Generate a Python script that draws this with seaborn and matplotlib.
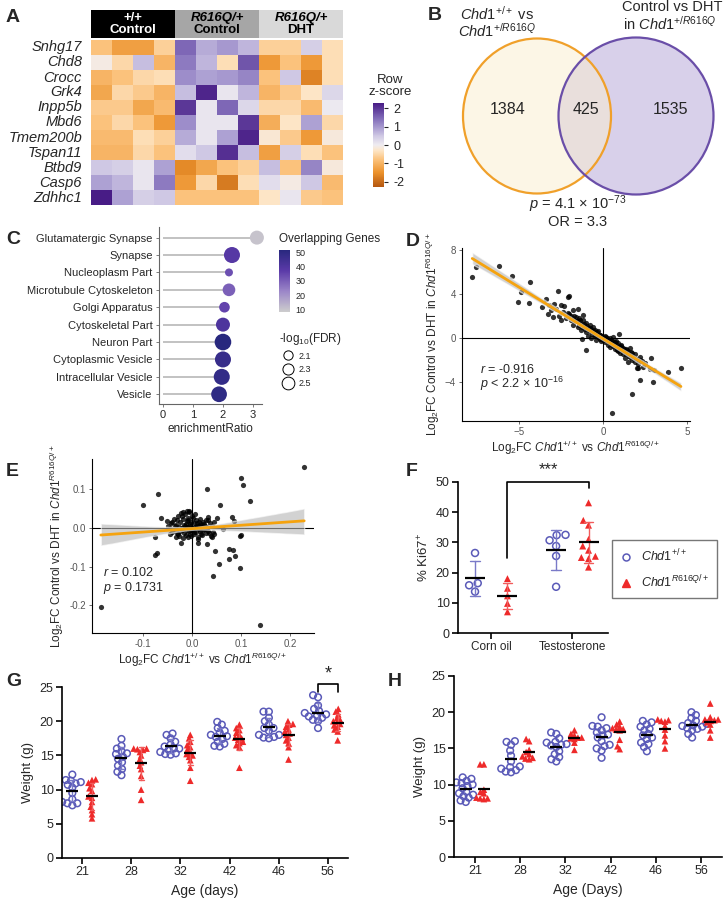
import numpy as np
import pandas as pd
import matplotlib
matplotlib.use('Agg')
import matplotlib.pyplot as plt
import seaborn as sns
from matplotlib.colors import LinearSegmentedColormap, Normalize
from matplotlib.patches import Ellipse, Rectangle
from matplotlib.lines import Line2D
from matplotlib.cm import ScalarMappable
from matplotlib.collections import PolyCollection
from matplotlib.ticker import FormatStrFormatter

sns.set_style('ticks')
plt.rcParams['font.family'] = ['Liberation Sans', 'DejaVu Sans']
plt.rcParams['mathtext.fontset'] = 'custom'
plt.rcParams['mathtext.rm'] = 'Liberation Sans'
plt.rcParams['mathtext.it'] = 'Liberation Sans:italic'
plt.rcParams['mathtext.bf'] = 'Liberation Sans:bold'

# ---------------- data ----------------
genes = ['Snhg17', 'Chd8', 'Crocc', 'Grk4', 'Inpp5b', 'Mbd6', 'Tmem200b',
         'Tspan11', 'Btbd9', 'Casp6', 'Zdhhc1']
heat_vals = [
    [-0.8, -1.3, -1.3, -0.6, 1.5, 0.8, 1.0, 0.7, -0.6, -0.6, 0.4, -0.4],
    [-0.1, -0.5, 0.6, -1.0, 1.3, 0.7, -0.4, 1.7, -1.4, -0.8, -1.4, -0.4],
    [-1.0, -0.8, -0.5, -0.4, 1.1, 0.9, 1.0, 1.2, -0.8, 0.5, -1.7, -0.4],
    [-1.2, -0.5, -0.7, -1.0, 0.6, 2.2, 0.1, 0.7, -1.0, -0.7, -0.3, 0.3],
    [-0.7, -0.7, -1.2, -0.9, 2.0, 0.1, 1.5, 0.3, -0.5, -0.5, -0.9, 0.05],
    [-0.8, -0.5, -0.8, -1.4, 1.1, 0.1, 0.1, 2.0, -1.1, -0.3, 0.9, -0.5],
    [-0.9, -0.9, -0.4, -0.6, 0.8, 0.1, 0.9, 2.2, -0.2, -0.7, -1.4, -0.15],
    [-1.0, -1.0, -0.5, -0.8, 0.2, 0.5, 2.1, 0.6, -1.3, 0.4, -0.4, -0.8],
    [0.5, 0.4, 0.1, 0.9, -1.6, -1.2, -0.8, -0.6, 0.6, -0.8, 1.2, -0.15],
    [0.9, 0.7, 0.1, 1.3, -1.4, -0.5, -1.8, -0.4, 0.2, -0.1, 0.5, -0.9],
    [2.3, 0.9, 0.4, 0.5, -0.8, -0.8, -0.8, -0.8, -0.3, 0.1, -0.7, -0.8],
]
venn_counts = [1384, 425, 1535]

terms = ['Glutamatergic Synapse', 'Synapse', 'Nucleoplasm Part',
         'Microtubule Cytoskeleton', 'Golgi Apparatus', 'Cytoskeletal Part',
         'Neuron Part', 'Cytoplasmic Vesicle', 'Intracellular Vesicle', 'Vesicle']
enrich_ratio = [3.13, 2.3, 2.2, 2.2, 2.05, 2.0, 2.0, 2.0, 1.96, 1.87]
overlap_genes = [12, 38, 33, 30, 35, 40, 50, 46, 47, 48]
neglog_fdr = [2.68, 3.0, 1.98, 2.49, 2.24, 2.68, 3.1, 3.0, 3.0, 2.95]

d_x = [-7.78, -7.56, -6.17, -5.44, -4.9, -5.04, -4.42, -4.33, -1.23, -1.03, 0.97, 0.81,
       2.84, 2.2, 1.75, 0.54, 2.95, 3.9, 4.64, 3.04, 2.08, 2.8,
       -3.6, -3.4, -3.3, -3.2, -3.1, -3.0, -2.9, -2.8, -2.7, -2.6, -2.5, -2.5, -2.4, -2.3,
       -2.2, -2.1, -2.0, -2.0, -1.9, -1.8, -1.8, -1.7, -1.6, -1.5, -1.5, -1.4, -1.3, -1.3,
       -1.2, -1.2, -1.1, -1.0, -1.0, -0.9, -0.9, -0.8, -0.8, -0.7, -0.7, -0.6, -0.6, -0.5,
       -0.5, -0.4, -0.4, -0.3, -0.3, -0.2, -0.2, -0.1, -0.1, 0.0, 0.0, 0.1, 0.1, 0.2, 0.2,
       0.3, 0.3, 0.4, 0.4, 0.5, 0.5, 0.6, 0.6, 0.7, 0.7, 0.8, 0.8, 0.9, 0.9, 1.0, 1.0, 1.1,
       1.1, 1.2, 1.2, 1.3, 1.3, 1.4, 1.4, 1.5, 1.5, 1.6, 1.6, 1.7, 1.7, 1.8, 1.9, 1.9, 2.0,
       2.1, 2.2, 2.3, 2.4, 2.0,
       -1.5, -1.4, -1.35, -1.25, -1.15, -1.05, -0.95, -0.85, -0.75, -0.65, -0.55, -0.45,
       -0.35, -0.25, -0.15, -0.05, 0.05, 0.15, 0.25, 0.35, 0.45, 0.55, 0.65, 0.75, 0.85,
       0.95, 1.05, 1.15, 1.25, 1.35, 1.45, 1.55, 1.65, 1.75, -1.6, -1.7, -1.9, -2.1, 2.2, 2.5]
d_y = [5.57, 6.43, 6.55, 5.64, 4.21, 3.24, 3.15, 5.06, -0.12, -1.09, 0.36, -1.1,
       -1.79, -3.8, -5.1, -6.85, -3.97, -3.1, -2.76, -2.9, -2.7, -2.8,
       2.8, 3.5, 2.2, 3.0, 2.5, 1.9, 3.1, 2.6, 4.3, 2.0, 3.0, 1.6, 2.4, 2.9,
       1.8, 3.7, 3.8, 2.2, 1.6, 2.5, 1.2, 2.0, 1.5, 2.6, 1.0, 1.8, 1.3, 0.7,
       1.6, 2.1, 1.0, 0.5, 1.4, 0.9, 0.2, 1.2, 0.6, 0.8, 0.0, 0.5, 1.0, 0.2,
       0.7, 0.4, -0.2, 0.6, 0.1, 0.3, -0.1, 0.2, -0.3, 0.1, -0.2, 0.2, -0.4, -0.1, 0.1,
       -0.3, -0.6, 0.0, -0.8, -0.2, -0.5, 0.1, -0.7, -0.4, -1.0, -0.3, -0.8, -1.2, -0.5, -0.8, -1.4, -0.6,
       -1.1, -1.5, -0.9, -1.2, -1.8, -1.0, -1.5, -2.2, -1.3, -1.7, -0.9, -2.0, -1.4, -1.8, -2.2, -1.5, -1.9,
       -2.4, -1.7, -2.1, -2.6, -2.7,
       1.5, 1.2, 1.6, 1.0, 1.3, 0.8, 1.1, 0.7, 0.9, 0.4, 0.6, 0.3,
       0.5, 0.1, 0.3, -0.1, 0.0, -0.2, 0.0, -0.4, -0.3, -0.6, -0.4, -0.8, -0.6,
       -1.0, -0.7, -1.2, -1.0, -1.4, -1.1, -1.6, -1.3, -1.7, 1.9, 1.6, 2.0, 2.3, -2.0, -2.3]

e_x = [0.229, 0.1, 0.104, 0.118, 0.03, 0.057, -0.07, -0.099, -0.063, -0.075, -0.072, -0.075,
       -0.186, 0.139, -0.023, 0.042, 0.056, 0.048, 0.076, 0.084, 0.076, 0.088, 0.099, 0.099,
       0.101, 0.081, 0.085, 0.063, 0.032, 0.032, 0.052, 0.013, 0.03, 0.041, 0.044, -0.011,
       -0.006, -0.018, -0.03, -0.04, -0.05, -0.033, -0.019, -0.008,
       -0.02, -0.015, -0.01, -0.005, 0.0, 0.005, 0.01, 0.015, 0.02, -0.025, -0.01, 0.008,
       0.018, -0.005, 0.025, -0.035, 0.03, -0.045, 0.0, -0.02, 0.012, -0.028, 0.005, -0.012,
       0.022, -0.002, 0.015, -0.008, 0.035, -0.04,
       -0.042, -0.038, -0.036, -0.033, -0.031, -0.029, -0.027, -0.026, -0.024, -0.022, -0.021,
       -0.019, -0.017, -0.016, -0.014, -0.013, -0.011, -0.009, -0.007, -0.006, -0.004, -0.003,
       -0.001, 0.001, 0.002, 0.004, 0.006, 0.007, 0.009, 0.011, 0.013, 0.014, 0.016, 0.017,
       0.019, 0.021, 0.023, 0.024, 0.026, 0.028, 0.029, 0.031, 0.033, 0.036, 0.038, 0.04,
       0.043, 0.045, -0.048, -0.044]
e_y = [0.157, 0.128, 0.111, 0.07, 0.1, 0.059, 0.087, 0.059, 0.027, -0.022, -0.065, -0.07,
       -0.204, -0.251, -0.04, -0.124, -0.093, -0.06, -0.053, -0.056, -0.081, -0.072, -0.103, -0.02,
       -0.017, 0.029, 0.018, -0.003, 0.029, 0.02, 0.025, -0.04, -0.042, -0.022, -0.015, 0.044,
       0.04, 0.042, 0.02, 0.015, 0.018, -0.022, -0.025, -0.022,
       0.0, 0.005, -0.005, 0.01, 0.0, -0.01, 0.005, -0.003, 0.008, -0.008, 0.018, 0.02,
       -0.015, -0.015, 0.01, 0.005, 0.0, 0.0, 0.03, 0.03, -0.028, -0.015, 0.012, 0.01,
       -0.006, -0.004, 0.015, 0.026, -0.012, -0.01,
       0.012, -0.005, 0.022, 0.008, -0.012, 0.03, 0.002, -0.02, 0.015, 0.038, -0.006,
       0.024, -0.012, 0.008, 0.035, -0.018, 0.003, 0.02, -0.008, 0.045, 0.006, -0.02,
       0.015, -0.006, 0.025, -0.015, 0.002, 0.035, -0.01, 0.012, -0.022, 0.004, 0.022, -0.007,
       0.01, -0.018, 0.016, -0.002, 0.006, -0.012, 0.02, 0.003, -0.008, 0.012, -0.02, 0.005,
       -0.01, 0.015, 0.004, -0.015]

treatments = ['Corn oil', 'Testosterone']
genotypes = ['WT', 'Mut']
f_wt = {'Corn oil': [26.5, 16.5, 15.8, 13.7],
        'Testosterone': [32.5, 32.4, 30.7, 28.8, 25.5, 15.3]}
f_mut = {'Corn oil': [18.0, 14.8, 12.3, 9.8, 7.0],
         'Testosterone': [43.1, 37.3, 35.7, 31.0, 28.8, 27.4, 25.4, 25.0, 24.6, 21.8]}

days = ['21', '28', '32', '42', '46', '56']
g_wt = {'21': [12.2, 11.4, 11.3, 11.1, 10.9, 10.7, 10.3, 9.5, 8.2, 8.0, 8.0, 7.7, 8.6],
        '28': [17.4, 16.4, 16.0, 15.6, 15.2, 14.8, 14.5, 14.0, 13.5, 13.0, 12.6, 12.1, 15.3],
        '32': [18.2, 18.0, 17.5, 17.0, 16.6, 16.3, 16.0, 15.8, 15.5, 15.3, 15.1, 15.2, 16.0],
        '42': [19.9, 19.5, 19.0, 18.6, 18.3, 18.0, 17.7, 17.4, 17.0, 16.7, 16.4, 16.3, 17.8],
        '46': [21.4, 21.4, 20.5, 20.0, 19.5, 19.0, 18.6, 18.0, 17.7, 17.5, 17.6, 18.0, 19.0],
        '56': [23.8, 23.5, 22.3, 21.8, 21.5, 21.0, 20.8, 20.5, 20.2, 20.0, 19.0, 21.2, 20.7]}
g_mut = {'21': [11.5, 11.4, 10.8, 10.2, 9.8, 9.0, 8.8, 8.2, 7.5, 7.0, 6.4, 5.8, 11.0],
         '28': [16.0, 16.0, 15.8, 15.5, 15.0, 14.5, 14.0, 13.5, 13.0, 12.0, 10.0, 8.5, 15.9],
         '32': [18.0, 17.5, 17.0, 16.2, 15.8, 15.5, 15.2, 15.0, 14.8, 14.3, 13.2, 11.3, 16.5],
         '42': [19.5, 19.0, 18.7, 18.3, 18.0, 17.6, 17.3, 17.0, 16.8, 16.5, 16.2, 13.2, 17.5],
         '46': [20.0, 19.5, 19.2, 18.8, 18.5, 18.2, 18.0, 17.6, 17.2, 16.8, 16.2, 14.4, 19.6],
         '56': [21.8, 21.4, 21.0, 20.5, 20.2, 19.9, 19.6, 19.2, 18.8, 18.5, 17.2, 20.0, 19.4]}
h_wt = {'21': [11.0, 10.8, 10.5, 10.3, 10.0, 9.8, 9.5, 9.0, 8.6, 8.4, 8.2, 7.8, 7.6, 10.2, 8.8],
        '28': [16.0, 15.9, 15.5, 14.7, 14.0, 13.2, 12.5, 12.2, 12.0, 11.8, 11.7, 12.4],
        '32': [17.2, 17.0, 16.4, 15.8, 15.6, 15.5, 15.4, 15.2, 14.6, 14.2, 13.8, 13.5, 13.2, 15.9],
        '42': [19.3, 18.1, 17.8, 17.5, 17.2, 16.9, 16.5, 16.0, 15.5, 15.3, 15.0, 14.7, 13.7, 18.0, 16.8],
        '46': [18.8, 18.6, 18.3, 18.0, 17.5, 17.0, 16.8, 16.3, 15.8, 15.6, 15.2, 14.6, 17.7, 16.5],
        '56': [20.0, 19.6, 19.2, 18.8, 18.4, 18.2, 18.0, 17.8, 17.7, 17.5, 17.0, 16.5, 18.5, 18.1]}
h_mut = {'21': [12.8, 12.8, 9.3, 9.0, 8.8, 8.2, 8.1, 8.1, 8.0],
         '28': [16.3, 16.0, 14.8, 14.5, 14.2, 13.9, 13.7, 13.6, 13.5],
         '32': [17.5, 17.0, 16.8, 16.5, 16.5, 16.4, 16.3, 15.8, 14.8],
         '42': [18.7, 18.0, 17.8, 17.7, 17.6, 17.5, 16.2, 15.3, 14.9, 18.3],
         '46': [19.0, 18.9, 18.8, 18.7, 18.1, 17.6, 16.8, 16.0, 15.0],
         '56': [21.2, 19.3, 19.0, 18.9, 18.8, 18.6, 18.3, 17.5, 16.5, 19.0]}

# ---------------- figure ----------------
W, H = 723, 900
fig = plt.figure(figsize=(7.23, 9.0), dpi=100)


def ax_px(x0, y0, x1, y1):
    return fig.add_axes([x0 / W, 1 - y1 / H, (x1 - x0) / W, (y1 - y0) / H])


ov = ax_px(0, 0, W, H)
ov.set_xlim(0, W)
ov.set_ylim(H, 0)
ov.axis('off')

for lab, (lx, ly) in {'A': (6, 17), 'B': (428, 16), 'C': (6, 240), 'D': (406, 242),
                      'E': (6, 472), 'F': (406, 472), 'G': (6, 682), 'H': (388, 682)}.items():
    ov.text(lx, ly, lab, fontsize=14, fontweight='bold', va='center', ha='left')

# ---------------- A: heatmap ----------------
nodes = [(-2.3, '#b45710'), (-1.5, '#ec922c'), (-0.8, '#fbc27c'), (-0.3, '#fde5c6'),
         (0.0, '#efecf1'), (0.5, '#cfc8e4'), (1.0, '#a698cf'), (1.5, '#7e68b6'), (2.3, '#481c86')]
cmapA = LinearSegmentedColormap.from_list('rz', [((v + 2.3) / 4.6, c) for v, c in nodes])
dfA = pd.DataFrame(heat_vals, index=genes)
axA = ax_px(91, 40, 343, 205)
caxA = ax_px(373, 103, 384, 187)
sns.heatmap(dfA, ax=axA, cmap=cmapA, vmin=-2.3, vmax=2.3, cbar_ax=caxA,
            xticklabels=False, yticklabels=True, cbar_kws={'ticks': [-2, -1, 0, 1, 2]})
axA.tick_params(left=False, labelsize=10.5, pad=3)
axA.set_ylabel('')
for t in axA.get_yticklabels():
    t.set_style('italic')
    t.set_rotation(0)
caxA.tick_params(labelsize=9, length=3, width=0.8)
caxA.set_yticklabels(['-2', '-1', '0', '1', '2'])
for sp in caxA.spines.values():
    sp.set_visible(False)
ov.text(390, 86, 'Row\nz-score', ha='center', va='center', fontsize=9.5, linespacing=1.1)

axHd = ax_px(91, 10, 343, 38)
axHd.set_xlim(0, 12)
axHd.set_ylim(0, 1)
axHd.axis('off')
for i, (fc, tc, l1, l2, it) in enumerate([('black', 'white', '+/+', 'Control', 'normal'),
                                          ('#a6a6a6', 'black', 'R616Q/+', 'Control', 'italic'),
                                          ('#d9d9d9', 'black', 'R616Q/+', 'DHT', 'italic')]):
    axHd.add_patch(Rectangle((4 * i, 0), 4, 1, facecolor=fc, edgecolor='none'))
    axHd.text(4 * i + 2, 0.72, l1, color=tc, ha='center', va='center', fontsize=9.5,
              fontweight='bold', style=it)
    axHd.text(4 * i + 2, 0.28, l2, color=tc, ha='center', va='center', fontsize=9.5,
              fontweight='bold')

# ---------------- B: Venn ----------------
ov.add_patch(Ellipse((636, 116), 155, 157, facecolor='#d8d0ea', edgecolor='none', zorder=1))
ov.add_patch(Ellipse((537, 116), 148, 155, facecolor='#fbefcf', alpha=0.5, edgecolor='none', zorder=2))
ov.add_patch(Ellipse((537, 116), 148, 155, facecolor='none', edgecolor='#f0a02a', lw=1.6, zorder=3))
ov.add_patch(Ellipse((636, 116), 155, 157, facecolor='none', edgecolor='#6a4ea8', lw=1.6, zorder=3))
for xx, n in zip([508, 586, 670], venn_counts):
    ov.text(xx, 110, str(n), ha='center', va='center', fontsize=11.5, zorder=4)
ov.text(497, 14, r'$\mathit{Chd1}^{\mathit{+/+}}$ vs', ha='center', va='center', fontsize=10.5)
ov.text(497, 31, r'$\mathit{Chd1}^{\mathit{+/R616Q}}$', ha='center', va='center', fontsize=10.5)
ov.text(672, 7, 'Control vs DHT', ha='center', va='center', fontsize=10.5)
ov.text(670, 24, r'in $\mathit{Chd1}^{\mathit{+/R616Q}}$', ha='center', va='center', fontsize=10.5)
ov.text(578, 204, r'$\mathit{p}$ = 4.1 × 10$^{-73}$', ha='center', va='center', fontsize=10.5)
ov.text(578, 222, 'OR = 3.3', ha='center', va='center', fontsize=10.5)

# ---------------- C: lollipop ----------------
cmapC = LinearSegmentedColormap.from_list('og', ['#cdcdcd', '#9b86c8', '#5b3aa8', '#28287e'])
dfC = pd.DataFrame({'term': terms, 'ratio': enrich_ratio, 'genes': overlap_genes,
                    'fdr': neglog_fdr})
axC = ax_px(159, 227, 262, 404)
sizes_rng = (33, 143)
size_norm = (1.98, 3.1)
axC.hlines(range(len(terms)), 0, dfC['ratio'], color='#bdbdbd', lw=1.3, zorder=1)
sns.scatterplot(data=dfC, x='ratio', y=np.arange(len(terms)), hue='genes', palette=cmapC,
                hue_norm=(10, 50), size='fdr', sizes=sizes_rng, size_norm=size_norm,
                legend=False, edgecolor='none', ax=axC, zorder=3, clip_on=False)
axC.set_yticks(range(len(terms)))
axC.set_yticklabels(terms)
axC.set_ylim(9.56, -0.61)
axC.set_xlim(-0.13, 3.3)
axC.set_xticks([0, 1, 2, 3])
axC.tick_params(labelsize=8, length=2.5, width=0.6, color='#666', pad=2)
axC.set_xlabel('enrichmentRatio', fontsize=8.5, labelpad=2)
axC.set_ylabel('')
for s in ['top', 'right']:
    axC.spines[s].set_visible(False)
for s in ['left', 'bottom']:
    axC.spines[s].set_color('#666')
    axC.spines[s].set_linewidth(0.8)

caxC = ax_px(279, 250, 290, 312)
cbC = fig.colorbar(ScalarMappable(norm=Normalize(8.5, 51.5), cmap=cmapC), cax=caxC,
                   ticks=[10, 20, 30, 40, 50])
cbC.outline.set_visible(False)
caxC.tick_params(labelsize=6.5, length=2, color='white', pad=2)
ov.text(279, 239, 'Overlapping Genes', fontsize=8.5, va='center')
ov.text(279, 339, r'-log$_{10}$(FDR)', fontsize=8.5, va='center')


def fdr_size(v):
    return sizes_rng[0] + (v - size_norm[0]) / (size_norm[1] - size_norm[0]) * (sizes_rng[1] - sizes_rng[0])


size_handles = [Line2D([], [], ls='', marker='o', markerfacecolor='white', markeredgecolor='black',
                       markeredgewidth=0.7, markersize=np.sqrt(fdr_size(v))) for v in [2.1, 2.3, 2.5]]
fig.legend(size_handles, ['2.1', '2.3', '2.5'], loc='upper left',
           bbox_to_anchor=(278 / W, 1 - 347 / H), frameon=False, fontsize=6.5,
           handletextpad=0.6, labelspacing=0.55, borderpad=0, handlelength=1.2)


# ---------------- D / E: scatter + regression ----------------
def style_gg(ax):
    for s in ['top', 'right']:
        ax.spines[s].set_visible(False)
    for s in ['left', 'bottom']:
        ax.spines[s].set_color('black')
        ax.spines[s].set_linewidth(0.8)
    ax.tick_params(labelsize=7, labelcolor='#555', color='#555', length=2.5, width=0.6, pad=2)
    for c in ax.collections:
        if isinstance(c, PolyCollection):
            c.set_facecolor('#b5b5b5')
            c.set_alpha(0.6)


axD = ax_px(462, 248, 690, 421)
axD.axhline(0, color='black', lw=0.8, zorder=0)
axD.axvline(0, color='black', lw=0.8, zorder=0)
sns.regplot(x=d_x, y=d_y, ax=axD, scatter_kws=dict(s=14, color='black', linewidths=0),
            line_kws=dict(color='#f5a30f', lw=2), seed=3)
axD.set_xlim(-8.39, 5.18)
axD.set_ylim(-7.55, 8.18)
axD.set_xticks([-5, 0, 5])
axD.set_yticks([-4, 0, 4, 8])
style_gg(axD)
axD.set_xlabel(r'Log$_2$FC $\mathit{Chd1}^{\mathit{+/+}}$ vs $\mathit{Chd1}^{\mathit{R616Q/+}}$',
               fontsize=8.5, labelpad=1)
axD.set_ylabel(r'Log$_2$FC Control vs DHT in $\mathit{Chd1}^{\mathit{R616Q/+}}$', fontsize=8.5,
               labelpad=2)
axD.text(0.08, 0.3, r'$\mathit{r}$ = -0.916', transform=axD.transAxes, fontsize=9, va='center')
axD.text(0.08, 0.215, r'$\mathit{p}$ < 2.2 × 10$^{-16}$', transform=axD.transAxes, fontsize=9,
         va='center')

axE = ax_px(92, 459, 314, 633)
axE.axhline(0, color='black', lw=0.8, zorder=0)
axE.axvline(0, color='black', lw=0.8, zorder=0)
sns.regplot(x=e_x, y=e_y, ax=axE, scatter_kws=dict(s=14, color='black', linewidths=0),
            line_kws=dict(color='#f5a30f', lw=2), seed=3, ci=55)
axE.set_xlim(-0.204, 0.249)
axE.set_ylim(-0.271, 0.178)
axE.set_xticks([-0.1, 0.0, 0.1, 0.2])
axE.set_yticks([-0.2, -0.1, 0.0, 0.1])
axE.xaxis.set_major_formatter(FormatStrFormatter('%.1f'))
axE.yaxis.set_major_formatter(FormatStrFormatter('%.1f'))
style_gg(axE)
axE.set_xlabel(r'Log$_2$FC $\mathit{Chd1}^{\mathit{+/+}}$ vs $\mathit{Chd1}^{\mathit{R616Q/+}}$',
               fontsize=8.5, labelpad=1)
axE.set_ylabel(r'Log$_2$FC Control vs DHT in $\mathit{Chd1}^{\mathit{R616Q/+}}$', fontsize=8.5,
               labelpad=2)
axE.text(0.05, 0.345, r'$\mathit{r}$ = 0.102', transform=axE.transAxes, fontsize=9, va='center')
axE.text(0.05, 0.26, r'$\mathit{p}$ = 0.1731', transform=axE.transAxes, fontsize=9, va='center')

# ---------------- F, G, H: dot plots ----------------
BLUE = '#5a5ab8'
BLUE_ERR = '#7a7ac8'
RED = '#ee2a2a'
RED_ERR = '#f25c5c'


def long_df(wt, mut, cats):
    rows = []
    for c in cats:
        rows += [(c, 'WT', v) for v in wt[c]]
        rows += [(c, 'Mut', v) for v in mut[c]]
    return pd.DataFrame(rows, columns=['cat', 'geno', 'val'])


def dotplot(ax, df, cats, msize, mean_w, errbars=True, capsize=0.1):
    n0 = len(ax.collections)
    sns.swarmplot(data=df[df.geno == 'WT'], x='cat', y='val', hue='geno', hue_order=genotypes,
                  order=cats, dodge=True, palette={'WT': BLUE, 'Mut': RED},
                  marker='o', size=msize, ax=ax, legend=False, zorder=2, warn_thresh=1)
    for c in ax.collections[n0:]:
        c.set_facecolor('none')
        c.set_edgecolor(BLUE)
        c.set_linewidth(1.1)
    sns.swarmplot(data=df[df.geno == 'Mut'], x='cat', y='val', hue='geno', hue_order=genotypes,
                  order=cats, dodge=True, palette={'WT': BLUE, 'Mut': RED},
                  marker='^', size=msize, ax=ax, legend=False, zorder=2, linewidth=0,
                  warn_thresh=1)
    if errbars:
        sns.pointplot(data=df, x='cat', y='val', hue='geno', hue_order=genotypes, order=cats,
                      dodge=0.4, errorbar='sd', capsize=capsize, linestyle='none',
                      markersize=0, palette={'WT': BLUE_ERR, 'Mut': RED_ERR},
                      err_kws={'linewidth': 1.0}, ax=ax, legend=False)
    sns.pointplot(data=df, x='cat', y='val', hue='geno', hue_order=genotypes, order=cats,
                  dodge=0.4, errorbar=None, linestyle='none', marker='_',
                  markersize=mean_w, markeredgewidth=1.6,
                  palette={'WT': 'black', 'Mut': 'black'}, ax=ax, legend=False)
    for s in ['top', 'right']:
        ax.spines[s].set_visible(False)
    for s in ['left', 'bottom']:
        ax.spines[s].set_color('black')
        ax.spines[s].set_linewidth(1.2)
    ax.tick_params(labelsize=9, length=4, width=1.2, color='black', pad=2)


dfF = long_df(f_wt, f_mut, treatments)
axF = ax_px(458, 482, 608, 633)
dotplot(axF, dfF, treatments, msize=5, mean_w=14, capsize=0.12)
axF.set_xlim(-0.41, 1.44)
axF.set_ylim(0, 50)
axF.set_yticks([0, 10, 20, 30, 40, 50])
axF.set_xlabel('')
axF.set_ylabel(r'% Ki67$^{+}$', fontsize=9.5, labelpad=3)
axF.tick_params(axis='x', labelsize=8.5)
axF.plot([0.2, 0.2, 1.2, 1.2], [25, 50, 50, 48], color='black', lw=1.2, clip_on=False)
axF.text(0.7, 51.5, '***', ha='center', va='bottom', fontsize=12)
leg_handles = [Line2D([], [], ls='', marker='o', markerfacecolor='none', markeredgecolor=BLUE,
                      markeredgewidth=1.1, markersize=5),
               Line2D([], [], ls='', marker='^', markerfacecolor=RED, markeredgecolor=RED,
                      markersize=5.5)]
fig.legend(leg_handles, [r'$\mathit{Chd1}^{\mathit{+/+}}$', r'$\mathit{Chd1}^{\mathit{R616Q/+}}$'],
           loc='upper left', bbox_to_anchor=(612 / W, 1 - 540 / H), frameon=True,
           fancybox=False, edgecolor='#555', fontsize=9, handletextpad=0.7,
           labelspacing=0.8, borderpad=0.6, handlelength=1.0, borderaxespad=0)

SWARM_SMALL = 2.6
SWARM_FINAL = 4.8

dfG = long_df(g_wt, g_mut, days)
axG = ax_px(62, 687, 348, 858)
dotplot(axG, dfG, days, msize=SWARM_SMALL, mean_w=9, capsize=0.1)
axG.set_xlim(-0.41, 5.41)
axG.set_ylim(0, 25)
axG.set_yticks([0, 5, 10, 15, 20, 25])
axG.set_xlabel('Age (days)', fontsize=10, labelpad=4)
axG.set_ylabel('Weight (g)', fontsize=9.5, labelpad=4)
axG.plot([4.8, 4.8, 5.2, 5.2], [24.3, 25.5, 25.5, 24.3], color='black', lw=1.2, clip_on=False)
axG.text(5.0, 25.6, '*', ha='center', va='bottom', fontsize=13)

dfH = long_df(h_wt, h_mut, days)
axH = ax_px(454, 676, 722, 857)
dotplot(axH, dfH, days, msize=SWARM_SMALL, mean_w=9, errbars=False)
axH.set_xlim(-0.46, 5.46)
axH.set_ylim(0, 25)
axH.set_yticks([0, 5, 10, 15, 20, 25])
axH.set_xlabel('Age (Days)', fontsize=10, labelpad=4)
axH.set_ylabel('Weight (g)', fontsize=9.5, labelpad=4)

# let seaborn place the swarms compactly, then freeze them and enlarge the markers
fig.canvas.draw()
for ax in (axG, axH):
    for c in ax.collections:
        if 'draw' in c.__dict__:
            del c.draw
        c.set_sizes(np.asarray(c.get_sizes()) * (SWARM_FINAL / SWARM_SMALL) ** 2)

fig.savefig('out.png', dpi=100)
